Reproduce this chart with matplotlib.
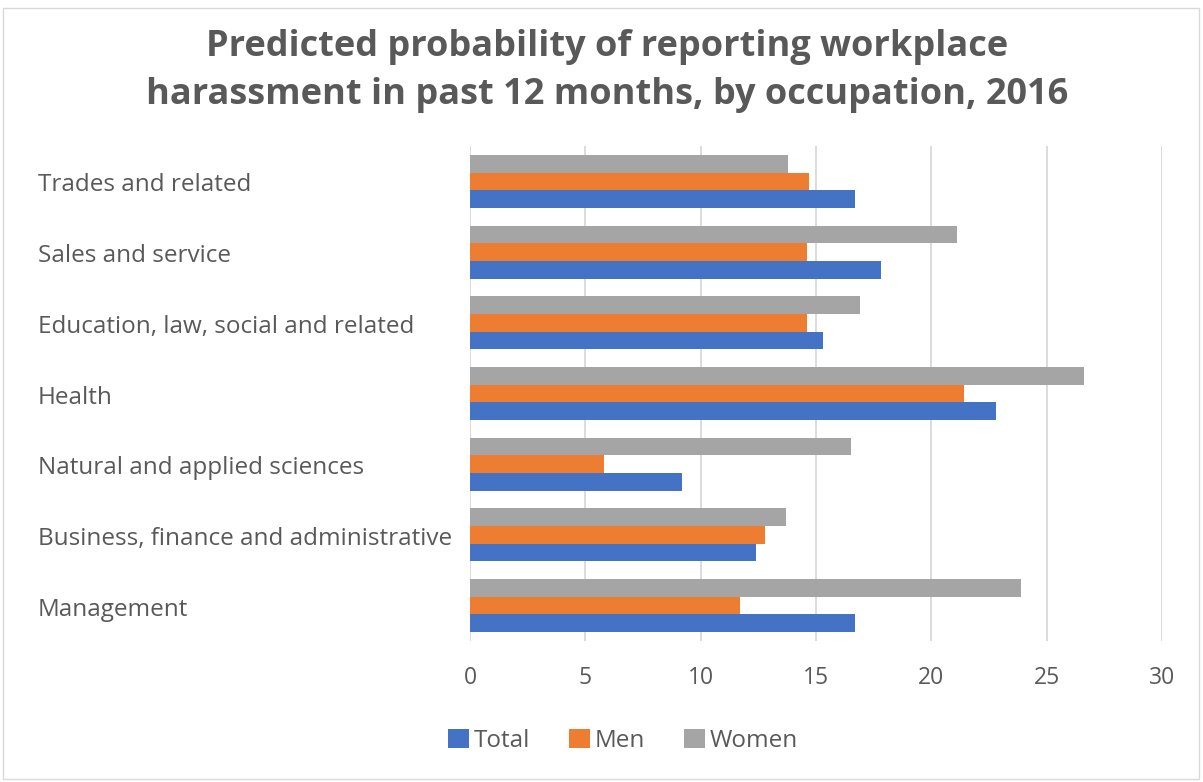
import matplotlib
matplotlib.use("Agg")
import matplotlib.pyplot as plt
from matplotlib.patches import Rectangle, Patch

categories = [
    "Trades and related",
    "Sales and service",
    "Education, law, social and related",
    "Health",
    "Natural and applied sciences",
    "Business, finance and administrative",
    "Management",
]
total = [16.7, 17.8, 15.3, 22.8, 9.2, 12.4, 16.7]
men = [14.7, 14.6, 14.6, 21.4, 5.8, 12.8, 11.7]
women = [13.8, 21.1, 16.9, 26.6, 16.5, 13.7, 23.9]
series_names = ["Total", "Men", "Women"]
xticks = [0, 5, 10, 15, 20, 25, 30]

colors = ["#4472C4", "#ED7D31", "#A5A5A5"]
text_color = "#595959"
grid_color = "#D9D9D9"
font = "Open Sans"

W, H = 1203, 782
fig = plt.figure(figsize=(W / 100, H / 100), dpi=100)
fig.patch.set_facecolor("white")

# outer chart frame
fig.patches.append(Rectangle((3 / W, 1 - 779 / H), 1196 / W, 771 / H,
                             transform=fig.transFigure, fill=False,
                             edgecolor="#D9D9D9", linewidth=1))

ax = fig.add_axes([470 / W, 1 - 641 / H, 692 / W, 495 / H])

n = len(categories)
bh = 0.25
ypos = list(range(n))
for i, (vals, c) in enumerate(zip([total, men, women], colors)):
    offs = (1 - i) * bh  # Total lowest in the group, Women on top
    ax.barh([y + offs for y in ypos], vals, height=bh, color=c,
            edgecolor="none", zorder=3)

ax.set_xlim(0, 30)
ax.set_ylim(n - 0.5, -0.5)
ax.set_xticks(xticks)
ax.set_xticklabels([str(t) for t in xticks])
ax.set_yticks(ypos)
ax.set_yticklabels([])
ax.grid(axis="x", color=grid_color, linewidth=1.3, zorder=0)
for s in ax.spines.values():
    s.set_visible(False)
ax.tick_params(axis="both", length=0)
ax.tick_params(axis="x", labelsize=16.5, labelcolor=text_color, pad=18)
for tl in ax.get_xticklabels():
    tl.set_fontfamily(font)

# category labels, left aligned
for y, name in zip(ypos, categories):
    yf = ax.transData.transform((0, y))[1] - 4
    fig.text(38 / W, yf / H, name, ha="left", va="center", fontsize=17.5,
             color=text_color, family=font)

fig.text(607 / W, 1 - 47 / H, "Predicted probability of reporting workplace",
         ha="center", va="center", fontsize=26, fontweight="bold",
         color=text_color, family=font)
fig.text(607 / W, 1 - 95 / H, "harassment in past 12 months, by occupation, 2016",
         ha="center", va="center", fontsize=26, fontweight="bold",
         color=text_color, family=font)

handles = [Patch(facecolor=c, edgecolor="none") for c in colors]
leg = fig.legend(handles, series_names, loc="center", ncol=3,
                 bbox_to_anchor=(623 / W, 1 - 741 / H), frameon=False,
                 prop={"family": font, "size": 17.5}, handlelength=0.85,
                 handleheight=0.85, handletextpad=0.2, columnspacing=1.6)
for t in leg.get_texts():
    t.set_color(text_color)

fig.savefig("out.png", dpi=100)
